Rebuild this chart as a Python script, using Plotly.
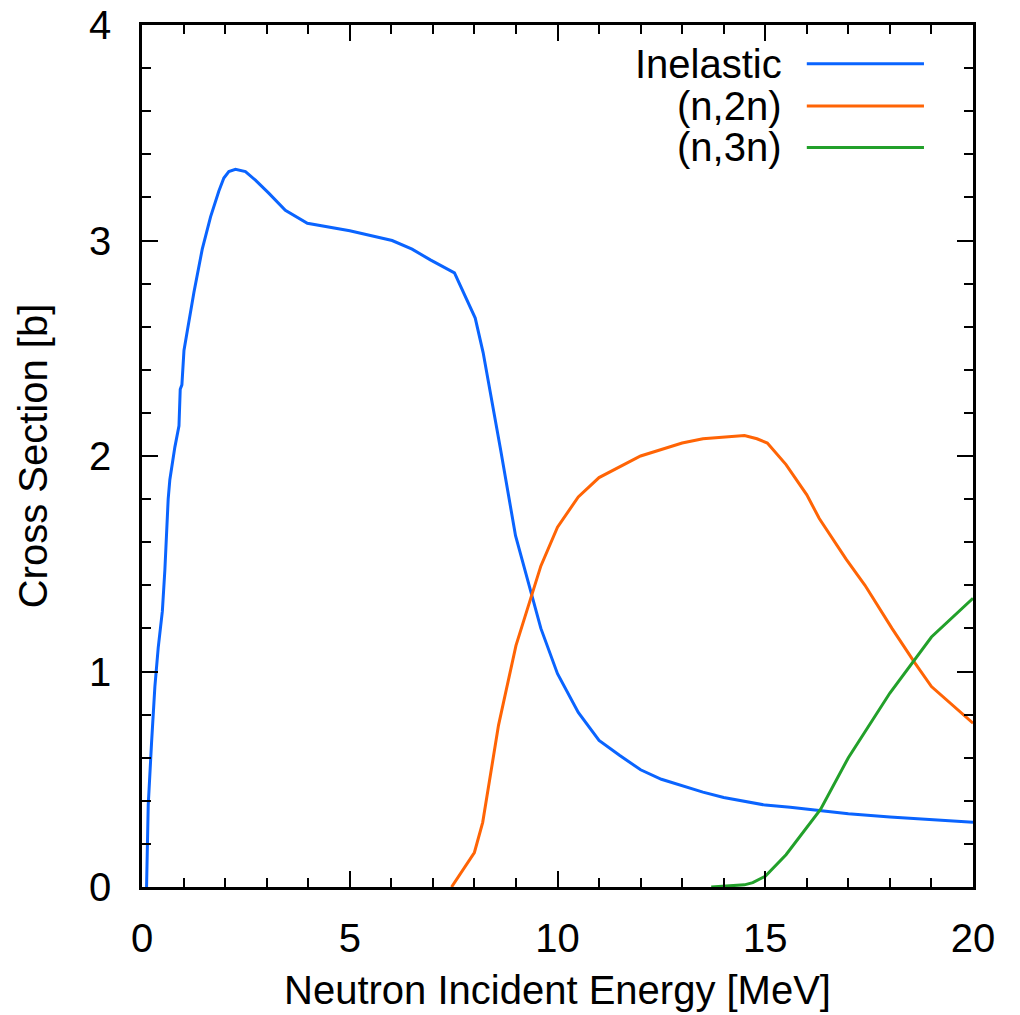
import plotly.graph_objects as go

# ---- data ----
inel_E = [0.11, 0.15, 0.23, 0.31, 0.39, 0.49, 0.55, 0.63, 0.67, 0.79, 0.89, 0.92, 0.96, 1.01, 1.09,
          1.25, 1.45, 1.65, 1.85, 1.97, 2.09, 2.25, 2.49, 2.73, 3.05, 3.45, 3.98, 4.53, 5.0, 6.02,
          6.5, 6.94, 7.52, 8.02, 8.21, 8.63, 8.99, 9.6, 10.0, 10.5, 11.0, 11.5, 12.0, 12.5, 13.0,
          13.5, 14.0, 15.0, 15.6, 16.3, 17.0, 18.0, 19.0, 20.0]
inel_xs = [0, 0.38, 0.67, 0.93, 1.11, 1.28, 1.47, 1.8, 1.89, 2.04, 2.14, 2.31, 2.33, 2.49, 2.58,
           2.76, 2.96, 3.11, 3.23, 3.29, 3.32, 3.33, 3.32, 3.28, 3.22, 3.14, 3.08, 3.06, 3.045, 3.0,
           2.96, 2.91, 2.85, 2.64, 2.48, 2.03, 1.63, 1.2, 0.99, 0.81, 0.68, 0.61, 0.544, 0.5, 0.47,
           0.44, 0.415, 0.38, 0.37, 0.355, 0.34, 0.325, 0.313, 0.3]

n2n_E = [7.45, 8.0, 8.2, 8.58, 9.0, 9.6, 10.0, 10.5, 11.0, 11.5, 12.0, 12.5, 13.0, 13.5, 14.05,
         14.5, 14.8, 15.05, 15.5, 16.0, 16.3, 16.95, 17.4, 18.05, 18.6, 19.0, 20.0]
n2n_xs = [0, 0.16, 0.3, 0.75, 1.12, 1.49, 1.67, 1.81, 1.9, 1.95, 2.0, 2.03, 2.06, 2.08, 2.09,
          2.095, 2.08, 2.06, 1.96, 1.82, 1.71, 1.52, 1.40, 1.2, 1.04, 0.93, 0.76]

n3n_E = [13.7, 14.05, 14.5, 14.7, 15.0, 15.5, 16.0, 16.33, 17.0, 18.0, 19.0, 20.0]
n3n_xs = [0, 0.003, 0.01, 0.02, 0.05, 0.15, 0.28, 0.36, 0.6, 0.9, 1.16, 1.34]

names = ["Inelastic", "(n,2n)", "(n,3n)"]
colors = ["#0a64ff", "#ff6405", "#22a02a"]

x_ticks = [0, 5, 10, 15, 20]
y_ticks = [0, 1, 2, 3, 4]

FONT = "Liberation Sans, Arial, Helvetica, sans-serif"
LW = 3

fig = go.Figure()
for E, xs, nm, c in zip([inel_E, n2n_E, n3n_E], [inel_xs, n2n_xs, n3n_xs], names, colors):
    fig.add_trace(go.Scatter(x=E, y=xs, mode="lines", name=nm,
                             line=dict(color=c, width=LW), showlegend=False))

# legend drawn gnuplot-style (text right-aligned, sample line on the right)
leg_y = [0.955, 0.906, 0.858]
for nm, c, yy in zip(names, colors, leg_y):
    fig.add_annotation(x=0.772, y=yy, xref="paper", yref="paper", text=nm,
                       showarrow=False, xanchor="right", yanchor="middle",
                       font=dict(family=FONT, size=40, color="black"))
    fig.add_shape(type="line", xref="paper", yref="paper", x0=0.800, x1=0.941,
                  y0=yy, y1=yy, line=dict(color=c, width=LW))

axis_common = dict(
    showline=True, linecolor="black", linewidth=2.5, mirror="ticks",
    ticks="inside", ticklen=16, tickwidth=1.5, tickcolor="black",
    showgrid=False, zeroline=False, automargin=False,
    tickfont=dict(family=FONT, size=40, color="black"),
)

fig.update_xaxes(range=[0, 20], tickvals=x_ticks, ticklabelstandoff=14,
                 minor=dict(dtick=1, ticks="inside", ticklen=9, tickwidth=1.5, tickcolor="black"),
                 title=dict(text="Neutron Incident Energy [MeV]", standoff=18,
                            font=dict(family=FONT, size=40, color="black")),
                 **axis_common)
fig.update_yaxes(range=[0, 4], tickvals=y_ticks, ticklabelstandoff=20,
                 minor=dict(dtick=0.2, ticks="inside", ticklen=9, tickwidth=1.5, tickcolor="black"),
                 title=dict(text="Cross Section [b]", standoff=30,
                            font=dict(family=FONT, size=40, color="black")),
                 **axis_common)

fig.update_layout(
    width=1020, height=1015,
    margin=dict(l=142, r=47, t=25, b=128),
    paper_bgcolor="white", plot_bgcolor="white",
    showlegend=False,
)

fig.write_html("out.html")
